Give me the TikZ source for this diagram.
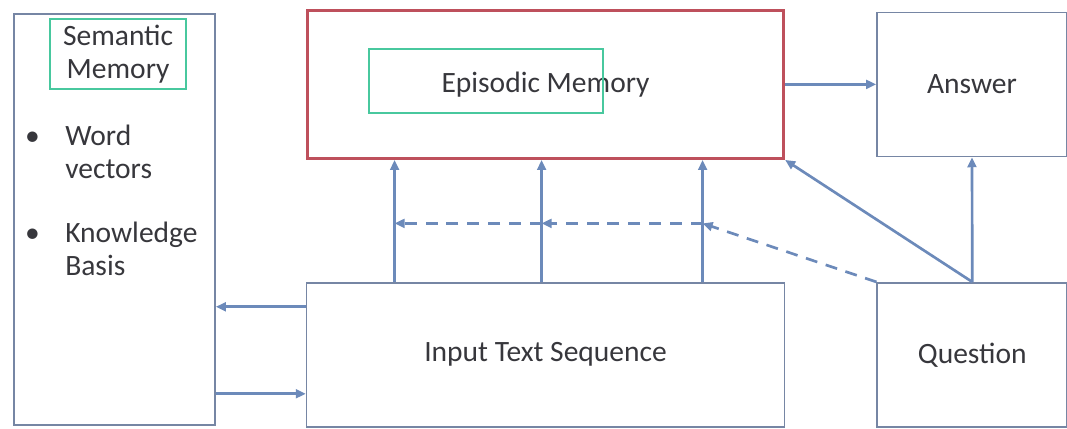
\documentclass[tikz,border=0pt]{standalone}
\usepackage{fontspec}
\setmainfont{Carlito}
\usetikzlibrary{arrows.meta,positioning,calc}
\definecolor{dmBox}{RGB}{118,134,164}
\definecolor{dmRed}{RGB}{190,80,92}
\definecolor{dmGreen}{RGB}{72,200,158}
\definecolor{dmArrow}{RGB}{108,138,186}
\definecolor{dmText}{RGB}{55,55,60}

\begin{document}
\begin{tikzpicture}[
  font=\fontsize{21}{23.5}\selectfont, text=dmText,
  node distance=23mm,
  box/.style={draw=dmBox, line width=1.2pt, align=center, inner sep=0pt},
  episode/.style={draw=dmRed, line width=2.2pt, align=center, minimum width=119mm, minimum height=37mm},
  tag/.style={draw=dmGreen, line width=1.2pt, align=center, inner sep=0pt},
  item/.style={anchor=base west, inner sep=0pt, align=left},
  arr/.style={-{Triangle[length=2.5mm,width=2.2mm]}, line width=1.9pt, draw=dmArrow},
  darr/.style={arr, dash pattern=on 3mm off 2.2mm}
]
\useasboundingbox (0,0) rectangle (26.675,10.7);
\node[episode] (episodic) at (13.64,8.59) {Episodic Memory};
\node[tag, minimum width=58.5mm, minimum height=16mm] (epitag) at ([xshift=-14.9mm,yshift=0.9mm]episodic.center) {};
\node[box, minimum width=119.5mm, minimum height=36mm, below=30.5mm of episodic] (input) {Input Text Sequence};
\node[box, minimum width=47.5mm, minimum height=36mm, right=22.75mm of episodic] (answer) {Answer};
\node[box, minimum width=47.5mm, minimum height=36mm, right=22.75mm of input] (question) {Question};
\node[box, minimum width=50.25mm, minimum height=102.75mm] (semantic) at (2.8625,5.2125) {};
\node[tag, minimum width=34mm, minimum height=17.5mm, below=1.25mm of semantic.north, xshift=0.9mm] (semtag) {Semantic\\Memory};
% bullet list in the semantic memory box
\node[item] (dot1) at (0.62,7.07) {\textbullet};
\node[item] (words) at (1.625,6.24) {Word\\vectors};
\node[item] (dot2) at (0.62,4.65) {\textbullet};
\node[item] (knowledge) at (1.625,3.82) {Knowledge\\Basis};
% input to episodic memory
\coordinate (in1) at ([xshift=-3.775cm]input.north);
\coordinate (in2) at ([xshift=-0.1cm]input.north);
\coordinate (in3) at ([xshift=3.925cm]input.north);
\draw[arr] (in1) -- (in1 |- episodic.south);
\draw[arr] (in2) -- (in2 |- episodic.south);
\draw[arr] (in3) -- (in3 |- episodic.south);
\coordinate (d1) at ($(in1)!0.48!(in1 |- episodic.south)$);
\coordinate (d2) at ($(in2)!0.48!(in2 |- episodic.south)$);
\coordinate (d3) at ($(in3)!0.48!(in3 |- episodic.south)$);
\draw[darr] (question.north west) -- (d3);
\draw[darr] (d3) -- (d2);
\draw[darr] (d2) -- (d1);
% question and answer
\draw[arr] (episodic.east) -- (answer.west);
\draw[arr] (question.north) -- (answer.south);
\draw[arr] (question.north) -- (episodic.south east);
% semantic memory and input
\coordinate (qa) at ([yshift=12mm]input.west);
\coordinate (qb) at ([yshift=-9.75mm]input.west);
\draw[arr] (qa) -- (qa -| semantic.east);
\draw[arr] (qb -| semantic.east) -- (qb);
\end{tikzpicture}
\end{document}
